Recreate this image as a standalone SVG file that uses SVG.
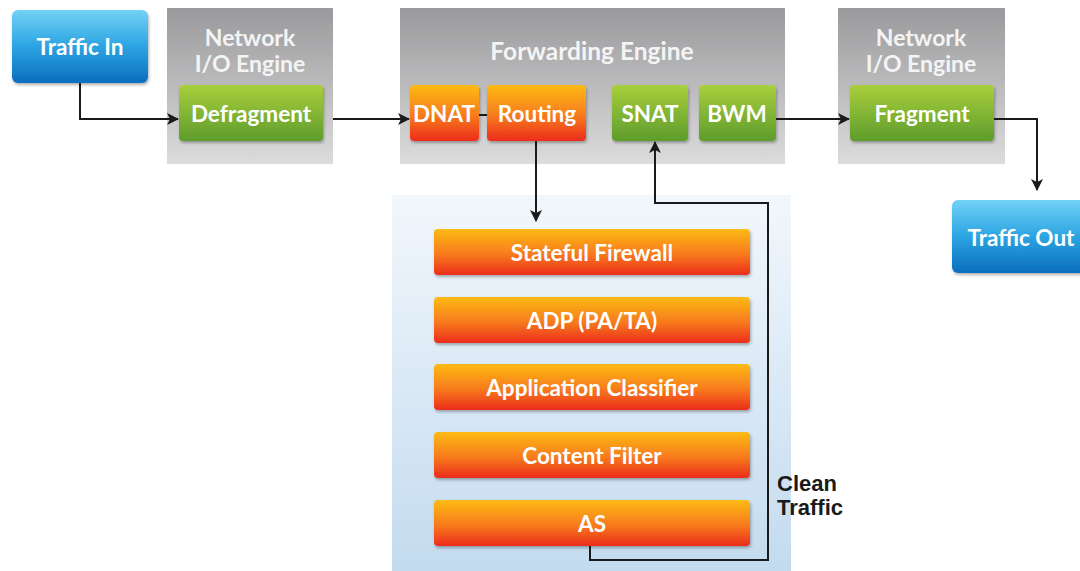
<svg xmlns="http://www.w3.org/2000/svg" width="1080" height="571" viewBox="0 0 1080 571">
<defs>
<linearGradient id="gBlue" x1="0" y1="0" x2="0" y2="1"><stop offset="0" stop-color="#72d2f6"/><stop offset="0.5" stop-color="#2ca4e2"/><stop offset="1" stop-color="#0a6ebf"/></linearGradient>
<linearGradient id="gGray" x1="0" y1="0" x2="0" y2="1"><stop offset="0" stop-color="#9a9a9c"/><stop offset="1" stop-color="#dcdcdd"/></linearGradient>
<linearGradient id="gGreen" x1="0" y1="0" x2="0" y2="1"><stop offset="0" stop-color="#a9cf3c"/><stop offset="1" stop-color="#5e9c2c"/></linearGradient>
<linearGradient id="gOrange" x1="0" y1="0" x2="0" y2="1"><stop offset="0" stop-color="#fdbb14"/><stop offset="0.55" stop-color="#f77a1e"/><stop offset="1" stop-color="#ec2d1f"/></linearGradient>
<linearGradient id="gPanel" x1="0" y1="0" x2="0" y2="1"><stop offset="0" stop-color="#f2f7fc"/><stop offset="1" stop-color="#c3dbef"/></linearGradient>
<filter id="sh" x="-10%" y="-10%" width="120%" height="130%"><feDropShadow dx="1" dy="2" stdDeviation="1.5" flood-color="#000" flood-opacity="0.3"/></filter>
<marker id="arr" viewBox="0 0 12 12" refX="11" refY="6" markerWidth="12" markerHeight="12" markerUnits="userSpaceOnUse" orient="auto"><path d="M0,0 L12,6 L0,12 L3,6 Z" fill="#1a1a1a"/></marker>
</defs>
<style>
.t{font-family:"Lato","Open Sans",sans-serif;font-weight:700;fill:#fff;text-anchor:middle;font-size:22.5px}
.h{font-family:"Lato","Open Sans",sans-serif;font-weight:700;fill:#f4f4f4;text-anchor:middle;font-size:23px}
.c{fill:none;stroke:#1a1a1a;stroke-width:2}
.lbl{font-family:"Liberation Sans",Arial,sans-serif;font-weight:700;fill:#1a1a1a;font-size:22px}
</style>
<rect width="1080" height="571" fill="#fff"/>

<g id="panel"><rect x="392" y="195" width="399" height="376" fill="url(#gPanel)"/></g>

<g id="traffic-in"><rect x="12" y="10" width="136" height="73" rx="6" fill="url(#gBlue)" filter="url(#sh)"/><text class="t" x="80" y="55">Traffic In</text></g>

<g id="nio1"><rect x="167" y="8" width="166" height="156" fill="url(#gGray)"/><text class="h" x="250" y="46">Network</text><text class="h" x="250" y="72">I/O Engine</text></g>
<g id="defragment"><rect x="179" y="85" width="144" height="56" rx="4" fill="url(#gGreen)" filter="url(#sh)"/><text class="t" x="251" y="122">Defragment</text></g>

<g id="fwd"><rect x="400" y="8" width="385" height="156" fill="url(#gGray)"/><text class="h" x="592" y="60" style="font-size:24.5px">Forwarding Engine</text></g>
<g id="dnat"><rect x="410" y="85" width="69" height="56" rx="4" fill="url(#gOrange)" filter="url(#sh)"/><text class="t" x="444" y="122">DNAT</text></g>
<g id="routing"><rect x="487" y="85" width="99" height="56" rx="4" fill="url(#gOrange)" filter="url(#sh)"/><text class="t" x="537" y="122">Routing</text></g>
<g id="snat"><rect x="612" y="85" width="76" height="56" rx="4" fill="url(#gGreen)" filter="url(#sh)"/><text class="t" x="650" y="122">SNAT</text></g>
<g id="bwm"><rect x="699" y="85" width="77" height="56" rx="4" fill="url(#gGreen)" filter="url(#sh)"/><text class="t" x="737" y="122">BWM</text></g>

<g id="nio2"><rect x="838" y="8" width="167" height="156" fill="url(#gGray)"/><text class="h" x="921" y="46">Network</text><text class="h" x="921" y="72">I/O Engine</text></g>
<g id="fragment"><rect x="850" y="85" width="144" height="56" rx="4" fill="url(#gGreen)" filter="url(#sh)"/><text class="t" x="922" y="122">Fragment</text></g>

<g id="traffic-out"><rect x="952" y="200" width="136" height="73" rx="6" fill="url(#gBlue)" filter="url(#sh)"/><text class="t" x="1021" y="246">Traffic Out</text></g>

<g id="stateful-firewall"><rect x="434" y="229" width="316" height="46" rx="4" fill="url(#gOrange)" filter="url(#sh)"/><text class="t" x="592" y="261">Stateful Firewall</text></g>
<g id="adp"><rect x="434" y="297" width="316" height="46" rx="4" fill="url(#gOrange)" filter="url(#sh)"/><text class="t" x="592" y="329">ADP (PA/TA)</text></g>
<g id="app-classifier"><rect x="434" y="364" width="316" height="46" rx="4" fill="url(#gOrange)" filter="url(#sh)"/><text class="t" x="592" y="396">Application Classifier</text></g>
<g id="content-filter"><rect x="434" y="432" width="316" height="46" rx="4" fill="url(#gOrange)" filter="url(#sh)"/><text class="t" x="592" y="464">Content Filter</text></g>
<g id="as"><rect x="434" y="500" width="316" height="46" rx="4" fill="url(#gOrange)" filter="url(#sh)"/><text class="t" x="592" y="532">AS</text></g>

<g id="connectors">
<path class="c" d="M80,83 V119 H178" marker-end="url(#arr)"/>
<path class="c" d="M333,119 H409" marker-end="url(#arr)"/>
<path class="c" d="M479,115 H487"/>
<path class="c" d="M536,141 V221" marker-end="url(#arr)"/>
<path class="c" d="M590,546 V560 H768 V203 H655 V142" marker-end="url(#arr)"/>
<path class="c" d="M776,119 H849" marker-end="url(#arr)"/>
<path class="c" d="M994,119 H1037 V190" marker-end="url(#arr)"/>
</g>
<g id="label"><text class="lbl" x="777" y="491">Clean</text><text class="lbl" x="777" y="515">Traffic</text></g>
</svg>
